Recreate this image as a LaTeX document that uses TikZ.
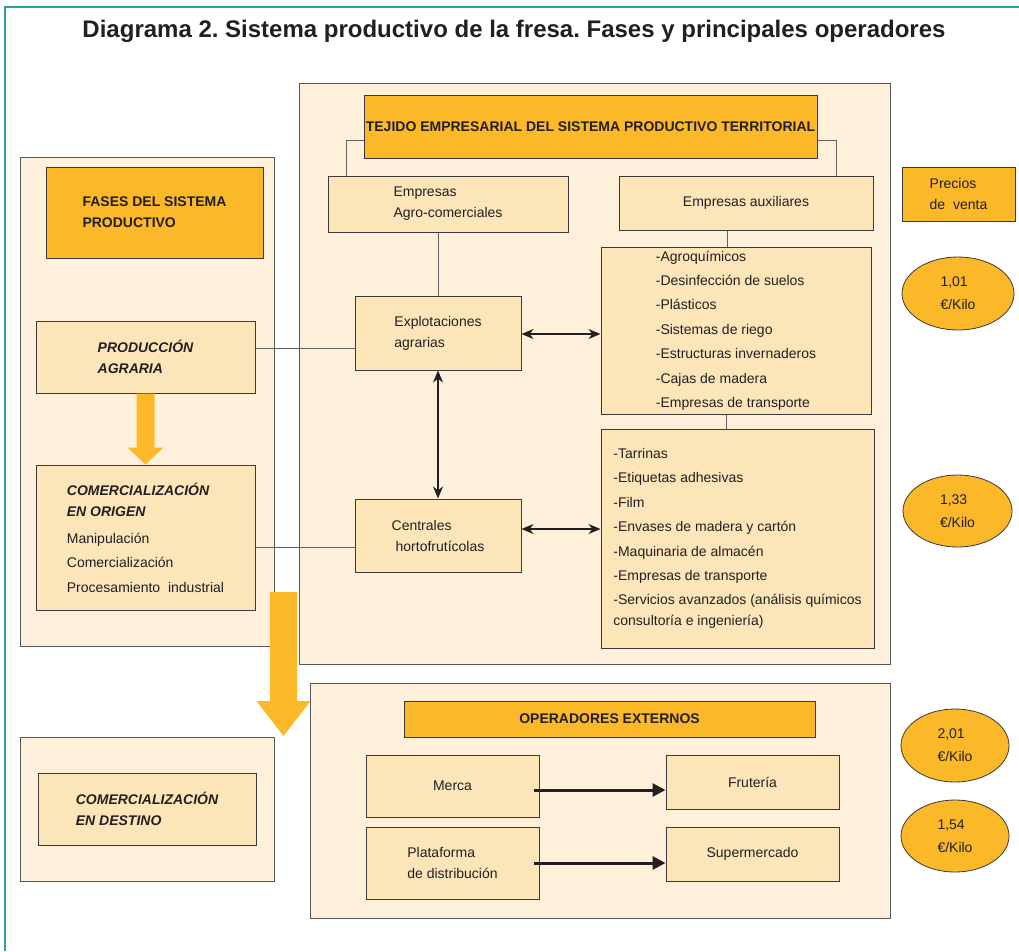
\documentclass[tikz,border=0pt]{standalone}
\usepackage{fontspec}
\setmainfont{Liberation Sans}
\usepackage{xcolor}
\usetikzlibrary{arrows.meta,calc,shapes.geometric}
\definecolor{panelbg}{HTML}{FEF0DA}
\definecolor{boxbg}{HTML}{FDE5BA}
\definecolor{naranja}{HTML}{FBB829}
\definecolor{borde}{HTML}{3A3A3A}
\definecolor{texto}{HTML}{231F20}
\definecolor{marco}{HTML}{2E9FA6}
\frenchspacing
\tikzset{
	tam/.style 2 args={minimum width=#1pt, minimum height=#2pt},
	panel/.style={draw=borde!85, fill=panelbg, line width=1pt},
	caja/.style={draw=borde, fill=boxbg, line width=1pt, align=left, inner sep=0pt,
			text=texto, font=\fontsize{14}{21}\selectfont},
	cajanar/.style={caja, fill=naranja, font=\fontsize{14}{21}\selectfont\bfseries},
	fase/.style={caja, font=\fontsize{14}{21}\selectfont\bfseries\itshape},
	lista/.style={caja, font=\fontsize{14}{24.4}\selectfont},
	precio/.style={ellipse, draw=borde, fill=naranja, line width=0.8pt, align=left,
			inner sep=0pt, text=texto, font=\fontsize{14}{23}\selectfont},
	enlace/.style={draw=borde!80, line width=1pt},
	doble/.style={draw=texto, line width=1.6pt,
			{Stealth[length=12pt,width=10pt]}-{Stealth[length=12pt,width=10pt]}},
	flecha/.style={draw=texto, line width=3pt, -{Triangle[length=13pt,width=13pt]}}
}

\begin{document}
\begin{tikzpicture}[x=1pt,y=-1pt]
	\useasboundingbox (0,0) rectangle (1019,951);
	% Frame and title
	\draw[marco, line width=1.5pt] (5,951) -- (5,7) -- (1019,7);
	\node[font=\fontsize{24}{26}\selectfont\bfseries, text=texto] (titulo) at (514,31)
		{Diagrama 2. Sistema productivo de la fresa. Fases y principales operadores};
	% Panels
	\node[panel, tam={254}{489}] (panelizq) at (147,401.5) {};
	\node[panel, tam={254}{144}] (paneldest) at (147,809) {};
	\node[panel, tam={591}{581}] (panelcentro) at (594.5,373.5) {};
	\node[panel, tam={580}{235}] (panelext) at (600,800.5) {};
	% Left column
	\node[cajanar, tam={217}{91}] (fases) at (154.5,212.5) {FASES DEL SISTEMA\\PRODUCTIVO};
	\node[fase, tam={219}{72}] (prod) at (145.5,357) {PRODUCCIÓN\\AGRARIA};
	\node[lista, tam={219}{145}] (orig) at (145.5,537.5)
		{\textbf{\textit{COMERCIALIZACIÓN}}\\[-3.4pt]\textbf{\textit{EN ORIGEN}}\\[2.6pt]Manipulación\\Comercialización\\Procesamiento\ \ industrial};
	\node[fase, tam={218}{72}] (dest) at (147,809) {COMERCIALIZACIÓN\\EN DESTINO};
	% Orange arrows
	\fill[naranja] ($(prod.south)+(-9,0)$) -- ($(prod.south)+(9,0)$) -- ($(orig.north)+(9,-17)$)
		-- ($(orig.north)+(18,-17)$) -- (orig.north) -- ($(orig.north)+(-18,-17)$)
		-- ($(orig.north)+(-9,-17)$) -- cycle;
	\coordinate (salida) at (283.5,592);
	\coordinate (llegada) at (283.5,736);
	\fill[naranja] ($(salida)+(-13.5,0)$) -- ($(salida)+(13.5,0)$) -- ($(llegada)+(13.5,-35)$)
		-- ($(llegada)+(27,-35)$) -- (llegada) -- ($(llegada)+(-27,-35)$)
		-- ($(llegada)+(-13.5,-35)$) -- cycle;
	% Territorial system
	\node[cajanar, tam={453}{63}, align=center] (tejido) at (590.5,126.5)
		{TEJIDO EMPRESARIAL DEL SISTEMA PRODUCTIVO TERRITORIAL};
	\node[caja, tam={240}{56}] (agro) at (448,204) {Empresas\\Agro-comerciales};
	\node[caja, tam={254}{54}] (aux) at (746,203) {Empresas auxiliares};
	\node[caja, tam={166}{74}] (explot) at (438,333) {Explotaciones\\agrarias};
	\node[caja, tam={166}{73}] (centrales) at (438,535.5) {Centrales\\\hspace{4pt}hortofrutícolas};
	\node[lista, tam={270}{167}] (insumos) at (736,330.5)
		{-Agroquímicos\\-Desinfección de suelos\\-Plásticos\\-Sistemas de riego\\-Estructuras invernaderos\\-Cajas de madera\\-Empresas de transporte};
	\node[lista, tam={273}{219}] (servicios) at (737.5,538.5)
		{-Tarrinas\\-Etiquetas adhesivas\\-Film\\-Envases de madera y cartón\\-Maquinaria de almacén\\-Empresas de transporte\\-Servicios avanzados (análisis químicos\\[-3.4pt]consultoría e ingeniería)};
	% Links
	\draw[enlace] ([yshift=-13.5pt]tejido.west) -| ([xshift=-101.4pt]agro.north);
	\draw[enlace] ([yshift=-13.5pt]tejido.east) -| ([xshift=90pt]aux.north);
	\draw[enlace] (agro.south -| explot.north) -- (explot.north);
	\draw[enlace] ([xshift=-9pt]insumos.north) -- ([xshift=-9pt]insumos.north |- aux.south);
	\draw[enlace] ([xshift=-10pt]insumos.south) -- ([xshift=-10pt]insumos.south |- servicios.north);
	\draw[enlace] ([yshift=9pt]prod.east) -- ([yshift=9pt]prod.east -| explot.west);
	\draw[enlace] ([yshift=-9.5pt]orig.east) -- ([yshift=-9.5pt]orig.east -| centrales.west);
	\draw[doble] (explot.south) -- (centrales.north);
	\draw[doble] ([yshift=-1pt]explot.east) -- ([yshift=-1pt]explot.east -| insumos.west);
	\draw[doble] ([yshift=6.5pt]centrales.east) -- ([yshift=6.5pt]centrales.east -| servicios.west);
	% Prices
	\node[cajanar, tam={113}{54}, font=\fontsize{14}{21}\selectfont] (precios) at (958.5,194) {Precios\\de\ \ venta};
	\node[precio, tam={112}{73}] (p1) at (958,293.5) {1,01\\€/Kilo};
	\node[precio, tam={109}{72}] (p2) at (957.5,511) {1,33\\€/Kilo};
	\node[precio, tam={108}{73}] (p3) at (955,745.5) {2,01\\€/Kilo};
	\node[precio, tam={108}{72}] (p4) at (955,836) {1,54\\€/Kilo};
	% External operators
	\node[cajanar, tam={411}{36}, align=center] (opext) at (609.5,719) {OPERADORES EXTERNOS};
	\node[caja, tam={173}{62}] (merca) at (452.5,786) {Merca};
	\node[caja, tam={173}{54}] (fruteria) at (752.5,782) {Frutería};
	\node[caja, tam={173}{72}] (plataforma) at (452.5,863) {Plataforma\\de distribución};
	\node[caja, tam={173}{54}] (super) at (752.5,854) {Supermercado};
	\draw[flecha] ([xshift=-6pt,yshift=-4pt]merca.east) -- ([yshift=-4pt]merca.east -| fruteria.west);
	\draw[flecha] ([xshift=-6pt]plataforma.east) -- (plataforma.east -| super.west);
\end{tikzpicture}
\end{document}
